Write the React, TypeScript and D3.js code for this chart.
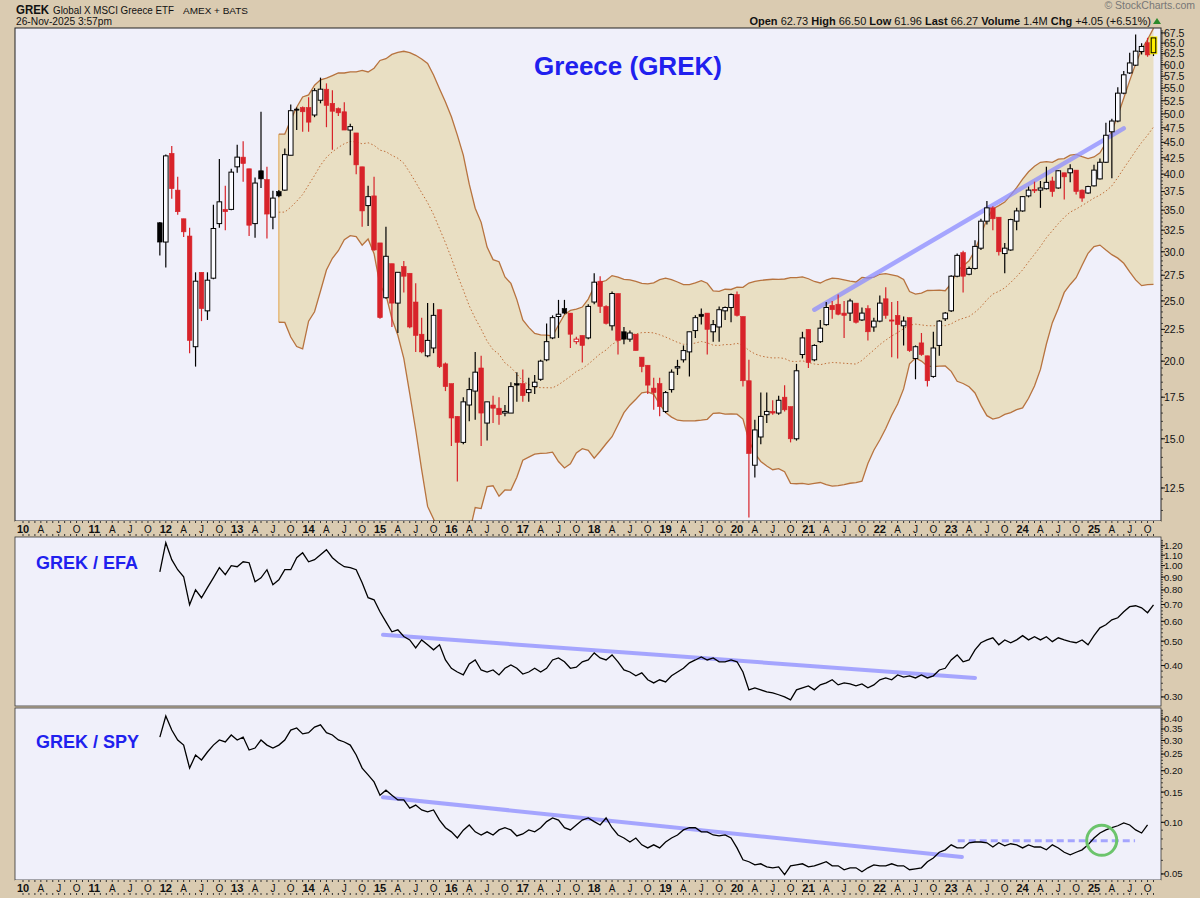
import React from 'react';
import * as d3 from 'd3';

// ---------- DATA (monthly, first bar = Dec 2011) ----------
const startLabel = '2011-12';
const opens = [33.4,31.1,43.2,37.7,33.9,31.8,21.1,27.8,24.1,27.2,33.3,35.1,35.1,41.1,42.6,40.8,33.3,40.5,39.2,34.1,37.5,37.7,42.9,50.9,51.2,51.2,49.8,52.6,54.8,52.0,51.0,50.4,47.1,46.6,41.1,35.6,36.9,31.0,25.3,28.7,24.8,28.4,27.7,24.9,22.1,20.4,21.0,24.2,19.8,18.4,16.3,14.8,17.0,17.9,19.5,15.9,17.0,16.8,16.5,16.5,18.4,18.4,17.8,18.2,18.7,20.1,21.8,23.6,24.3,23.9,21.5,22.0,21.8,24.9,26.9,24.5,22.8,25.7,22.3,21.7,22.1,20.3,19.7,18.1,18.4,16.6,18.0,19.5,20.1,20.7,22.4,23.8,23.9,22.3,22.7,24.1,24.4,25.6,23.6,18.6,13.6,15.1,16.4,16.6,16.5,17.5,16.9,15.0,20.5,22.5,20.1,21.5,22.9,24.6,24.7,23.9,23.9,24.8,23.3,24.3,22.7,23.2,25.2,23.3,23.7,22.8,23.5,20.2,21.4,20.4,18.9,21.2,23.4,24.1,27.4,29.9,27.6,28.2,30.4,33.6,35.3,34.1,29.8,30.2,33.6,34.9,36.9,37.8,37.7,37.9,39.0,38.0,40.2,40.2,40.6,37.7,37.3,38.3,39.3,41.8,46.8,48.7,54.0,58.2,59.9,63.0,65.1,62.73];
const highs = [33.5,43.0,44.4,39.6,33.9,32.8,27.8,27.8,27.8,35.7,42.3,38.3,40.8,44.6,45.2,40.8,39.5,50.4,41.1,37.6,37.7,44.0,51.8,51.2,51.4,53.2,55.0,57.2,56.0,54.6,51.2,52.2,48.2,46.6,41.1,38.3,39.6,31.0,32.9,28.7,27.8,29.0,27.7,26.7,23.5,24.8,24.8,24.2,19.9,18.4,16.3,17.5,18.8,20.7,20.4,17.2,17.6,17.5,17.0,18.5,19.2,19.4,18.8,19.0,20.1,23.0,23.7,25.1,25.1,23.9,21.9,22.0,24.7,27.7,27.4,24.6,25.9,25.7,22.7,22.4,22.1,20.3,19.7,18.8,18.8,17.9,19.4,20.1,21.2,22.3,23.7,24.3,23.9,23.3,24.5,24.5,25.7,25.9,23.6,20.1,16.1,17.8,17.8,17.3,17.6,18.3,16.9,19.8,22.3,22.5,21.3,23.3,24.9,25.0,25.6,25.0,25.2,24.8,24.4,24.6,23.5,25.5,26.3,24.9,25.0,23.6,23.5,21.2,22.2,20.4,22.3,23.3,24.0,27.5,29.8,30.1,28.4,31.3,33.9,36.2,35.5,34.1,31.0,33.9,35.3,36.9,38.2,38.9,39.0,41.1,39.6,40.6,40.2,41.5,40.6,37.8,38.3,41.4,42.4,48.4,49.1,55.2,58.6,62.7,67.1,65.0,66.3,66.50];
const lows = [29.6,28.3,36.5,34.4,31.7,20.6,19.6,23.2,23.3,27.1,32.8,32.5,35.0,40.2,38.9,31.8,31.6,38.0,31.5,32.6,36.7,37.6,42.9,47.1,46.8,46.8,49.4,52.0,47.6,43.8,49.6,47.1,42.9,40.0,32.9,33.0,30.1,23.4,25.2,22.7,22.2,25.8,22.6,20.7,20.6,20.3,20.6,19.5,17.9,14.6,12.8,14.7,16.0,16.1,14.6,14.9,15.9,15.8,16.3,16.5,17.2,17.2,17.2,17.7,18.6,20.0,21.7,21.8,23.8,21.0,21.3,19.9,21.7,24.7,23.9,22.9,22.4,20.5,21.3,21.5,20.8,19.2,17.7,16.7,16.3,16.5,17.8,19.0,19.9,18.9,21.8,22.9,20.5,21.5,21.5,23.3,23.1,23.6,18.2,11.2,13.0,14.7,15.9,16.4,16.4,16.6,14.8,14.9,20.2,19.5,20.0,21.4,22.8,23.4,23.7,21.8,23.2,23.0,23.2,21.6,22.3,23.1,23.4,20.3,20.2,21.2,20.7,18.7,20.4,18.2,18.8,20.4,23.2,24.0,27.3,25.8,27.5,28.1,30.2,33.2,32.5,29.6,27.7,30.1,32.5,34.8,36.7,37.3,35.3,37.8,36.8,37.9,36.4,38.8,37.1,36.1,37.2,38.2,39.2,41.7,39.4,48.5,53.8,58.0,59.7,62.3,61.8,61.96];
const closes = [31.1,42.8,37.9,34.8,32.3,21.6,26.9,24.3,27.0,32.7,36.1,34.8,40.3,42.6,41.6,33.1,38.7,39.3,34.5,36.6,36.9,43.0,50.6,50.7,50.4,48.5,54.5,54.8,51.6,50.5,50.2,47.1,47.7,41.4,34.9,36.8,30.2,23.5,29.5,24.8,27.8,27.4,22.7,22.0,20.7,21.6,23.7,19.6,18.2,16.2,14.8,17.2,18.0,19.2,16.5,17.2,16.8,16.4,16.6,18.2,18.3,17.6,18.0,18.5,20.0,21.5,23.5,23.8,23.9,22.1,21.7,21.2,24.5,26.8,24.5,23.0,25.7,21.6,21.7,22.2,20.8,19.6,18.3,17.8,16.9,17.8,19.2,19.6,20.8,22.3,23.5,23.6,22.5,22.9,24.2,24.4,25.6,23.7,18.6,14.2,15.5,16.3,16.6,16.5,17.3,16.7,15.0,19.3,21.8,19.9,21.2,22.6,24.4,24.2,23.8,23.7,25.0,23.1,23.9,22.3,23.2,24.8,23.7,23.2,22.9,23.2,20.8,21.1,20.5,18.6,21.0,23.2,23.9,27.4,29.6,27.4,28.2,30.6,33.6,35.3,33.9,30.0,30.4,33.8,34.9,36.8,37.7,37.6,38.0,38.8,37.5,40.5,39.6,40.8,37.5,36.6,38.2,40.6,41.8,46.2,48.7,54.0,57.8,60.4,63.1,64.2,62.22,66.27];
const grekEfa = [0.945,1.234,1.056,0.963,0.903,0.698,0.801,0.745,0.817,0.894,0.981,0.920,0.999,0.990,1.036,1.027,0.862,0.894,0.963,0.839,0.878,0.963,0.963,1.075,1.125,1.036,1.056,1.105,1.157,1.075,1.027,0.990,0.981,0.963,0.855,0.745,0.731,0.655,0.597,0.545,0.555,0.522,0.506,0.470,0.506,0.484,0.462,0.484,0.421,0.390,0.377,0.367,0.406,0.421,0.384,0.377,0.384,0.367,0.390,0.402,0.390,0.370,0.377,0.390,0.377,0.390,0.421,0.429,0.414,0.390,0.394,0.414,0.421,0.449,0.429,0.421,0.441,0.414,0.384,0.377,0.364,0.374,0.351,0.341,0.351,0.344,0.364,0.377,0.390,0.410,0.421,0.433,0.421,0.429,0.414,0.414,0.421,0.414,0.377,0.320,0.326,0.320,0.314,0.311,0.306,0.300,0.292,0.320,0.326,0.332,0.320,0.335,0.341,0.351,0.335,0.341,0.338,0.332,0.338,0.326,0.335,0.351,0.357,0.351,0.367,0.360,0.364,0.357,0.367,0.357,0.364,0.384,0.390,0.421,0.441,0.414,0.421,0.462,0.493,0.506,0.516,0.484,0.506,0.493,0.506,0.526,0.506,0.521,0.506,0.521,0.498,0.516,0.506,0.498,0.493,0.506,0.484,0.526,0.565,0.581,0.608,0.620,0.655,0.686,0.692,0.679,0.649,0.698];
const grekSpy = [0.314,0.417,0.345,0.302,0.282,0.207,0.247,0.231,0.257,0.282,0.302,0.294,0.323,0.302,0.314,0.264,0.271,0.302,0.282,0.271,0.282,0.302,0.345,0.355,0.328,0.333,0.359,0.370,0.333,0.323,0.302,0.294,0.282,0.247,0.207,0.189,0.172,0.144,0.154,0.144,0.135,0.135,0.121,0.126,0.118,0.115,0.118,0.103,0.093,0.088,0.081,0.090,0.0965,0.088,0.0844,0.088,0.0844,0.0903,0.093,0.0903,0.0833,0.0855,0.0903,0.088,0.093,0.101,0.106,0.103,0.093,0.0903,0.0965,0.103,0.106,0.101,0.0965,0.106,0.093,0.0844,0.081,0.0768,0.081,0.0739,0.0709,0.0739,0.0709,0.0768,0.081,0.0844,0.0903,0.093,0.093,0.088,0.088,0.0844,0.0833,0.0844,0.081,0.0709,0.0605,0.0589,0.0565,0.0573,0.0550,0.0543,0.0550,0.0495,0.0558,0.0565,0.0573,0.0550,0.0558,0.0573,0.0589,0.0558,0.0558,0.0529,0.0543,0.0543,0.0515,0.0543,0.0565,0.0558,0.0558,0.0573,0.0558,0.0558,0.0529,0.0536,0.0543,0.0589,0.0620,0.0669,0.0691,0.0739,0.0709,0.0709,0.0760,0.0768,0.0768,0.0760,0.0718,0.0760,0.0729,0.0750,0.0739,0.0709,0.0739,0.0718,0.0718,0.0691,0.0739,0.0709,0.0669,0.0646,0.0669,0.0691,0.0739,0.081,0.0866,0.0903,0.093,0.0955,0.0993,0.0965,0.0903,0.0866,0.0965];

const priceTicks = [12.5,15,17.5,20,22.5,25,27.5,30,32.5,35,37.5,40,42.5,45,47.5,50,52.5,55,57.5,60,62.5,65,67.5];
const efaTicks = [0.30,0.40,0.50,0.60,0.70,0.80,0.90,1.00,1.10,1.20];
const spyTicks = [0.05,0.10,0.15,0.20,0.25,0.30,0.35,0.40];
const quarterLetters = ['', 'A', 'J', 'O'];

// annotation anchors (bar index, value)
const priceTrend = [[110, 24.2], [162, 47.4]];
const efaTrend = [[37.5, 0.530], [137, 0.357]];
const spyTrend = [[37.5, 0.140], [134.8, 0.0627]];
const spyFlat = [[134.1, 0.0780], [163.9, 0.0780]];
const spyCircle = [158.3, 0.0785];

const FONT = '"Liberation Sans", Arial, sans-serif';
const OUTER = '#dacbb1';
const PLOT = '#f0f0fa';
const RED = '#d8232a';
const BAND = '#e9dfc3';
const BANDLINE = '#b7733f';
const TREND = 'rgba(140,140,255,0.75)';

export default function App() {
  const L = 15, R = 1161;
  const p1 = { t: 28, b: 521 };
  const p2 = { t: 537, b: 706 };
  const p3 = { t: 708, b: 880 };
  const x = d3.scaleLinear().domain([-23, 167]).range([23, 23 + 5.95 * 190]);
  const yP = d3.scaleLog().domain([11.06, 68.75]).range([p1.b, p1.t]);
  const yE = d3.scaleLog().domain([0.276, 1.30]).range([p2.b, p2.t]);
  const yS = d3.scaleLog().domain([0.0461, 0.464]).range([p3.b, p3.t]);

  // Bollinger bands (20, 2)
  const bb = closes.map((c, i) => {
    if (i < 20) return null;
    const w = closes.slice(i - 19, i + 1);
    const m = d3.mean(w) as number;
    const sd = Math.sqrt(d3.mean(w.map(v => (v - m) * (v - m))) as number);
    return { i, m, u: m + 2 * sd, l: m - 2 * sd };
  }).filter(Boolean) as { i: number; m: number; u: number; l: number }[];

  const area = d3.area<any>().x(d => x(d.i)).y0(d => yP(d.l)).y1(d => yP(d.u));
  const lineU = d3.line<any>().x(d => x(d.i)).y(d => yP(d.u));
  const lineL = d3.line<any>().x(d => x(d.i)).y(d => yP(d.l));
  const lineM = d3.line<any>().x(d => x(d.i)).y(d => yP(d.m));
  const lineE = d3.line<number>().x((_, i) => x(i)).y(d => yE(d));
  const lineS = d3.line<number>().x((_, i) => x(i)).y(d => yS(d));

  const bw = 4.6;
  const n = closes.length;

  const axisStrip = (top: number, key: string) => {
    const months = d3.range(-23, 168);
    return (
      <g key={key}>
        <rect x={L} y={top} width={R - L} height={15} fill={OUTER} />
        {months.map(k => (
          <g key={k}>
            <line x1={x(k)} x2={x(k)} y1={top} y2={top + 2} stroke="#333" strokeWidth={1} />
            <line x1={x(k)} x2={x(k)} y1={top + 13} y2={top + 15} stroke="#333" strokeWidth={1} />
          </g>
        ))}
        {months.filter(k => (k + 23) % 3 === 0).map(k => {
          const m = k + 23;
          const isYear = m % 12 === 0;
          const label = isYear ? String(10 + m / 12) : quarterLetters[(m % 12) / 3];
          return (
            <text key={'t' + k} x={x(k)} y={top + 11.5} textAnchor="middle" fontSize={isYear ? 11 : 10}
              fontWeight={isYear ? 'bold' : 'normal'} fill="#111" fontFamily={FONT}>{label}</text>
          );
        })}
      </g>
    );
  };

  const rightAxis = (ticks: number[], y: any, fmt: (v: number) => string, minorStep: number, lo: number, hi: number, key: string, fs: number) => {
    const minors = d3.range(Math.ceil(lo / minorStep) * minorStep, hi, minorStep);
    return (
      <g key={key} fontFamily={FONT} fontSize={fs}>
        {minors.map((v, i) => (
          <line key={i} x1={R} x2={R + 2} y1={y(v)} y2={y(v)} stroke="#222" strokeWidth={0.8} />
        ))}
        {ticks.map(v => (
          <g key={v}>
            <line x1={R} x2={R + 4} y1={y(v)} y2={y(v)} stroke="#111" />
            <text x={R + 3} y={y(v) + fs * 0.36} fill="#111">{fmt(v)}</text>
          </g>
        ))}
      </g>
    );
  };

  const candles = closes.map((c, i) => {
    const o = opens[i], h = highs[i], l = lows[i];
    const prev = i === 0 ? c : closes[i - 1];
    const col = c >= prev ? '#000' : RED;
    const hollow = c > o;
    const cx = x(i);
    const top = yP(Math.max(o, c)), bot = yP(Math.min(o, c));
    const last = i === n - 1;
    return (
      <g key={i}>
        <line x1={cx} x2={cx} y1={yP(h)} y2={yP(l)} stroke={col} strokeWidth={1.2} />
        {last && <rect x={cx - bw / 2 - 1.5} y={top - 1.5} width={bw + 3} height={bot - top + 3} fill="#ffee00" />}
        <rect x={cx - bw / 2} y={top} width={bw} height={Math.max(1, bot - top)}
          fill={last ? '#ffee00' : hollow ? '#fbfbff' : col} stroke={col} strokeWidth={hollow ? 1 : 0.6} />
      </g>
    );
  });

  const first = bb[0];

  return (
    <svg width={1200} height={898} style={{ position: 'absolute', left: 0, top: 0 }} fontFamily={FONT}>
      <rect x={0} y={0} width={1200} height={898} fill={OUTER} />
      {/* header */}
      <text x={16} y={14} fontSize={13} fontWeight="bold" fill="#111" textLength={33} lengthAdjust="spacingAndGlyphs">GREK</text>
      <text x={53} y={14} fontSize={10} fill="#111" textLength={121} lengthAdjust="spacingAndGlyphs">Global X MSCI Greece ETF</text>
      <text x={183} y={14} fontSize={8.5} fill="#111" textLength={65} lengthAdjust="spacingAndGlyphs">AMEX + BATS</text>
      <text x={16} y={25} fontSize={10.5} fill="#111" textLength={96} lengthAdjust="spacingAndGlyphs">26-Nov-2025 3:57pm</text>
      <text x={1195} y={9} fontSize={10.5} fill="#777" textAnchor="end">© StockCharts.com</text>
      <text x={1151} y={25} fontSize={11} textAnchor="end" fill="#111">
        <tspan fontWeight="bold">Open</tspan><tspan> 62.73 </tspan>
        <tspan fontWeight="bold">High</tspan><tspan> 66.50 </tspan>
        <tspan fontWeight="bold">Low</tspan><tspan> 61.96 </tspan>
        <tspan fontWeight="bold">Last</tspan><tspan> 66.27 </tspan>
        <tspan fontWeight="bold">Volume</tspan><tspan> 1.4M </tspan>
        <tspan fontWeight="bold">Chg</tspan><tspan> +4.05 (+6.51%)</tspan>
      </text>
      <path d="M1153,24 L1161,24 L1157,18 Z" fill="#2a8a2a" />

      {/* panel 1 */}
      <rect x={L} y={p1.t} width={R - L} height={p1.b - p1.t} fill={PLOT} />
      <g clipPath="url(#c1)">
        <path d={area(bb) || ''} fill={BAND} />
        <line x1={x(first.i)} x2={x(first.i)} y1={yP(first.u)} y2={yP(first.l)} stroke="#e3a64e" strokeWidth={1} />
        <path d={lineU(bb) || ''} fill="none" stroke={BANDLINE} strokeWidth={1.3} />
        <path d={lineL(bb) || ''} fill="none" stroke={BANDLINE} strokeWidth={1.3} />
        <path d={lineM(bb) || ''} fill="none" stroke="#c0703c" strokeWidth={1} strokeDasharray="1.5,2.2" />
        <line x1={x(priceTrend[0][0])} y1={yP(priceTrend[0][1])} x2={x(priceTrend[1][0])} y2={yP(priceTrend[1][1])}
          stroke={TREND} strokeWidth={4.5} strokeLinecap="round" />
        {candles}
      </g>
      <defs>
        <clipPath id="c1"><rect x={L} y={p1.t} width={R - L} height={p1.b - p1.t} /></clipPath>
        <clipPath id="c2"><rect x={L} y={p2.t} width={R - L} height={p2.b - p2.t} /></clipPath>
        <clipPath id="c3"><rect x={L} y={p3.t} width={R - L} height={p3.b - p3.t} /></clipPath>
      </defs>
      <text x={628} y={75} textAnchor="middle" fontSize={26} fontWeight="bold" fill="#2020ee">Greece (GREK)</text>
      <rect x={L} y={p1.t} width={R - L} height={p1.b - p1.t} fill="none" stroke="#222" />
      {rightAxis(priceTicks, yP, v => v.toFixed(1), 0.5, 11.5, 68.5, 'a1', 10.5)}
      {axisStrip(p1.b, 's1')}

      {/* panel 2 */}
      <rect x={L} y={p2.t} width={R - L} height={p2.b - p2.t} fill={PLOT} />
      <g clipPath="url(#c2)">
        <line x1={x(efaTrend[0][0])} y1={yE(efaTrend[0][1])} x2={x(efaTrend[1][0])} y2={yE(efaTrend[1][1])}
          stroke={TREND} strokeWidth={4} strokeLinecap="round" />
        <path d={lineE(grekEfa) || ''} fill="none" stroke="#000" strokeWidth={1.3} />
      </g>
      <text x={36} y={569} fontSize={18} fontWeight="bold" fill="#2020ee">GREK / EFA</text>
      <rect x={L} y={p2.t} width={R - L} height={p2.b - p2.t} fill="none" stroke="#333" strokeWidth={0.8} />
      {rightAxis(efaTicks, yE, v => v.toFixed(2), 0.02, 0.28, 1.28, 'a2', 9.5)}

      {/* panel 3 */}
      <rect x={L} y={p3.t} width={R - L} height={p3.b - p3.t} fill={PLOT} />
      <g clipPath="url(#c3)">
        <line x1={x(spyTrend[0][0])} y1={yS(spyTrend[0][1])} x2={x(spyTrend[1][0])} y2={yS(spyTrend[1][1])}
          stroke={TREND} strokeWidth={4} strokeLinecap="round" />
        <line x1={x(spyFlat[0][0])} y1={yS(spyFlat[0][1])} x2={x(spyFlat[1][0])} y2={yS(spyFlat[1][1])}
          stroke={TREND} strokeWidth={3} strokeDasharray="7,4" />
        <path d={lineS(grekSpy) || ''} fill="none" stroke="#000" strokeWidth={1.3} />
        <circle cx={x(spyCircle[0])} cy={yS(spyCircle[1])} r={15} fill="none" stroke="#6cc46c" strokeWidth={3} />
      </g>
      <text x={36} y={748} fontSize={18} fontWeight="bold" fill="#2020ee">GREK / SPY</text>
      <rect x={L} y={p3.t} width={R - L} height={p3.b - p3.t} fill="none" stroke="#333" strokeWidth={0.8} />
      {rightAxis(spyTicks, yS, v => v.toFixed(2), 0.01, 0.05, 0.46, 'a3', 9.5)}
      {axisStrip(p3.b, 's3')}
      <desc>{startLabel}</desc>
    </svg>
  );
}
